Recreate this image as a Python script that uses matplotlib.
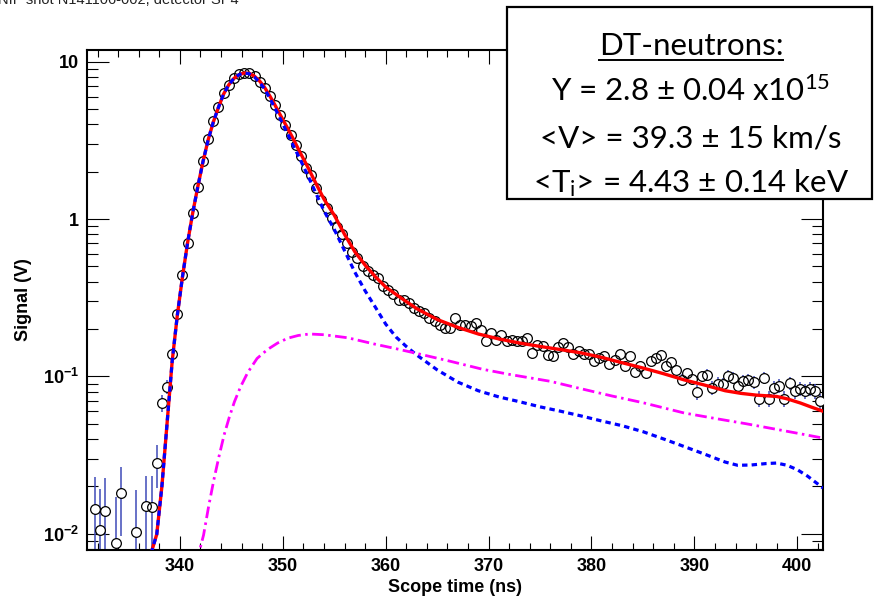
import numpy as np
import matplotlib
matplotlib.use('Agg')
import matplotlib.pyplot as plt
from matplotlib.ticker import MultipleLocator, LogLocator, NullFormatter
from matplotlib.patches import Rectangle
from matplotlib.lines import Line2D

plt.rcParams['font.family'] = ['Liberation Sans', 'DejaVu Sans']
plt.rcParams['mathtext.fontset'] = 'custom'
plt.rcParams['mathtext.rm'] = 'Liberation Sans'
plt.rcParams['mathtext.bf'] = 'Liberation Sans:bold'

# scattered low points before the rise (only the positive ones show on log axis)
early_t = [331.75, 332.25, 332.75, 333.75, 334.25, 335.75, 336.75, 337.25]
early_v = [0.0144, 0.0106, 0.0140, 0.0087, 0.0182, 0.0103, 0.0149, 0.0148]

# scope samples every 0.5 ns from 337.75 to 402.25
main_t = np.arange(337.75, 402.26, 0.5)
main_v = [0.0281, 0.0677, 0.0857, 0.139, 0.249, 0.439, 0.706, 1.09, 1.61, 2.33,
          3.24, 4.19, 5.15, 6.3, 7.15, 7.85, 8.35, 8.55, 8.5, 8.1,
          7.5, 6.85, 6.1, 5.35, 4.6, 3.99, 3.45, 2.98, 2.51, 2.12,
          1.92, 1.58, 1.33, 1.18, 1.02, 0.89, 0.80, 0.71, 0.62, 0.567,
          0.50, 0.466, 0.44, 0.422, 0.374, 0.356, 0.336, 0.307, 0.307, 0.293,
          0.272, 0.259, 0.253, 0.235, 0.224, 0.213, 0.203, 0.203, 0.235, 0.213,
          0.213, 0.208, 0.219, 0.198, 0.167, 0.189, 0.171, 0.184, 0.167, 0.171,
          0.167, 0.167, 0.175, 0.141, 0.159, 0.155, 0.137, 0.135, 0.154, 0.162,
          0.154, 0.139, 0.146, 0.139, 0.139, 0.125, 0.131, 0.134, 0.120, 0.128,
          0.139, 0.116, 0.134, 0.106, 0.117, 0.105, 0.125, 0.131, 0.137, 0.116,
          0.123, 0.109, 0.095, 0.105, 0.096, 0.079, 0.100, 0.1025, 0.0843, 0.0899,
          0.0895, 0.101, 0.0977, 0.0863, 0.094, 0.095, 0.0916, 0.0722, 0.0977, 0.0722,
          0.0843, 0.0873, 0.0722, 0.0908, 0.0803, 0.0835, 0.0803, 0.0832, 0.0803, 0.0693]
sigma = 0.0085

# total fit (red)
total_t = [337.2, 337.75, 338.25, 338.75, 339.25, 339.75, 340.25, 340.75, 341.25, 341.75,
           342.25, 342.75, 343.25, 343.75, 344.25, 344.75, 345.25, 345.75, 346.25, 346.75,
           347.25, 347.75, 348.25, 348.75, 349.25, 349.75, 350.5, 351.0, 351.75, 352.5,
           353.0, 354.0, 355.0, 356.0, 357.0, 358.0, 359.0, 360.0, 361.5, 363.0,
           365.0, 367.0, 369.0, 371.0, 373.0, 375.0, 377.0, 379.0, 381.0, 383.0,
           385.0, 387.0, 389.0, 391.0, 393.0, 394.5, 396.0, 398.0, 399.0, 400.3,
           401.3, 402.5]
total_v = [0.0075, 0.0099, 0.02, 0.05, 0.125, 0.245, 0.43, 0.71, 1.1, 1.62,
           2.33, 3.2, 4.15, 5.15, 6.25, 7.15, 7.85, 8.3, 8.5, 8.45,
           8.1, 7.55, 6.85, 6.05, 5.3, 4.6, 3.75, 3.25, 2.6, 2.1,
           1.8, 1.34, 1.06, 0.80, 0.62, 0.51, 0.43, 0.37, 0.315, 0.27,
           0.23, 0.205, 0.186, 0.173, 0.163, 0.155, 0.148, 0.141, 0.132, 0.122,
           0.113, 0.104, 0.095, 0.088, 0.081, 0.078, 0.076, 0.0745, 0.072, 0.0677,
           0.064, 0.060]

# DT primary neutrons (blue dashed)
dt_t = [337.2, 337.75, 338.25, 338.75, 339.25, 339.75, 340.25, 340.75, 341.25, 341.75,
        342.25, 342.75, 343.25, 343.75, 344.25, 344.75, 345.25, 345.75, 346.25, 346.75,
        347.25, 347.75, 348.25, 348.75, 349.25, 349.75, 350.5, 351.0, 351.75, 352.5,
        353.0, 353.5, 354.0, 355.0, 356.0, 357.0, 358.0, 359.0, 360.0, 361.0,
        362.0, 363.0, 365.0, 367.0, 369.0, 371.0, 373.0, 375.0, 377.0, 379.0,
        381.0, 383.0, 385.0, 387.0, 389.0, 391.0, 393.0, 394.2, 395.5, 397.0,
        398.0, 399.0, 400.0, 401.0, 402.5]
dt_v = [0.0075, 0.0099, 0.02, 0.05, 0.125, 0.245, 0.43, 0.71, 1.1, 1.62,
        2.33, 3.2, 4.15, 5.15, 6.25, 7.15, 7.85, 8.3, 8.5, 8.4,
        8.0, 7.4, 6.7, 5.85, 5.05, 4.35, 3.45, 2.95, 2.35, 1.85,
        1.57, 1.33, 1.13, 0.86, 0.63, 0.46, 0.35, 0.275, 0.215, 0.178,
        0.155, 0.137, 0.110, 0.092, 0.081, 0.074, 0.069, 0.064, 0.060, 0.056,
        0.052, 0.0485, 0.0445, 0.040, 0.0358, 0.032, 0.0285, 0.0272, 0.0273, 0.0279,
        0.0281, 0.0272, 0.0255, 0.0232, 0.0195]

# scattered / background component (magenta dash-dot)
bg_t = [341.6, 342.3, 342.8, 343.3, 343.8, 344.3, 344.8, 345.3, 345.9, 346.6,
        347.5, 348.5, 349.5, 350.5, 351.5, 352.6, 354.0, 356.3, 359.0, 361.0,
        363.0, 366.0, 369.4, 372.0, 376.0, 379.0, 382.0, 385.0, 389.0, 392.0,
        395.0, 398.0, 400.0, 402.5]
bg_v = [0.0065, 0.0098, 0.015, 0.022, 0.031, 0.0425, 0.055, 0.069, 0.086, 0.106,
        0.13, 0.148, 0.163, 0.175, 0.182, 0.186, 0.184, 0.176, 0.16, 0.15,
        0.14, 0.126, 0.111, 0.103, 0.093, 0.0834, 0.075, 0.068, 0.0585, 0.054,
        0.05, 0.046, 0.0435, 0.0405]

x_ticks = [340, 350, 360, 370, 380, 390, 400]
y_ticks = [0.01, 0.1, 1, 10]
y_labels = [r'$\mathregular{10^{-2}}$', r'$\mathregular{10^{-1}}$', '1', '10']

box_lines = ['DT-neutrons:',
             r'Y = 2.8 ± 0.04 x10$\mathregular{^{15}}$',
             '<V> = 39.3 ± 15 km/s',
             r'<T$\mathregular{_i}$> = 4.43 ± 0.14 keV']

fig = plt.figure(figsize=(8.77, 5.97), dpi=100)
ax = fig.add_axes([87.3 / 877, 1 - 549.7 / 597, (822.7 - 87.3) / 877, (549.7 - 50) / 597])

all_t = np.concatenate([early_t, main_t])
all_v = np.concatenate([early_v, main_v])
ax.errorbar(all_t, all_v, yerr=sigma, fmt='none', ecolor='#3f4ab8', elinewidth=1.1, zorder=2)
ax.plot(all_t, all_v, 'o', ms=7, mfc='white', mec='none', zorder=3)
ax.plot(all_t, all_v, 'o', ms=7, mfc='none', mec='black', mew=0.9, zorder=4)

ax.plot(total_t, total_v, '-', color='#ff0000', lw=2.4, zorder=5)
ax.plot(dt_t, dt_v, color='#0000ff', lw=2.3, linestyle=(0, (1.7, 1.3)), zorder=6)
ax.plot(bg_t, bg_v, color='#ff00ff', lw=2.0, linestyle=(0, (4.2, 1.6, 0.9, 1.6)), zorder=6)

ax.set_yscale('log')
ax.set_xlim(331.0, 402.47)
ax.set_ylim(0.0079, 11.9)

ax.set_xticks(x_ticks, [str(v) for v in x_ticks], fontsize=13, fontweight='bold')
ax.set_yticks(y_ticks, y_labels, fontsize=13, fontweight='bold')
ax.xaxis.set_minor_locator(MultipleLocator(2))
ax.yaxis.set_minor_locator(LogLocator(base=10, subs=np.arange(2, 10)))
ax.yaxis.set_minor_formatter(NullFormatter())

ax.tick_params(axis='x', which='major', direction='in', length=10, width=0.8, top=True, pad=6)
ax.tick_params(axis='x', which='minor', direction='in', length=5, width=0.8, top=True)
ax.tick_params(axis='y', which='major', direction='in', length=16, width=0.8, right=True, pad=6)
ax.tick_params(axis='y', which='minor', direction='in', length=8, width=0.8, right=True)
for s in ax.spines.values():
    s.set_linewidth(1.5)

ax.set_xlabel('Scope time (ns)', fontsize=13, fontweight='bold', labelpad=3)
ax.set_ylabel('Signal (V)', fontsize=13, fontweight='bold', labelpad=8)

# title, cut off at the top edge as in the source image
fig.text(-0.002, 1 - 4 / 597, 'NIF shot N141106-002, detector SP4', fontsize=10.5,
         color='#222222', va='baseline')

# parameter box
box = Rectangle((507 / 877, 1 - 199 / 597), 365 / 877, 192 / 597, transform=fig.transFigure,
                facecolor='white', edgecolor='black', lw=1.6, zorder=10)
fig.add_artist(box)
baselines = [55, 101, 147, 192]
texts = []
for line, b in zip(box_lines, baselines):
    t = fig.text(691 / 877, 1 - b / 597, line, fontsize=22.5, family='Lato',
                 ha='center', va='baseline', zorder=11)
    texts.append(t)

fig.canvas.draw()
bb = texts[0].get_window_extent()
uy = 1 - 60 / 597
fig.add_artist(Line2D([bb.x0 / 877, bb.x1 / 877], [uy, uy], transform=fig.transFigure,
                      color='black', lw=1.4, zorder=12))

fig.savefig('out.png', dpi=100)
